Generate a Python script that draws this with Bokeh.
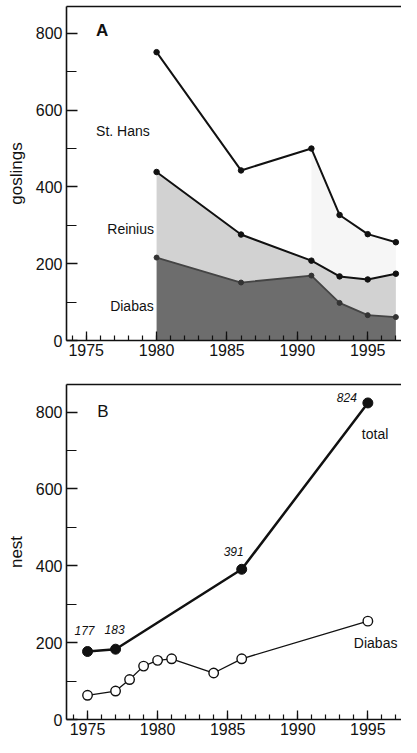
from bokeh.plotting import figure
from bokeh.layouts import column
from bokeh.models import Range1d, FixedTicker, LinearAxis, Label
from bokeh.embed import file_html
from bokeh.resources import INLINE

# ---- Panel A data (goslings, cumulative) ----
years_a = [1980, 1986, 1991, 1993, 1995, 1997]
diabas_a = [216, 151, 169, 98, 66, 61]
reinius_cum = [439, 276, 208, 167, 159, 174]
sthans_cum = [751, 443, 500, 327, 277, 256]

# ---- Panel B data (nests) ----
years_total = [1975, 1977, 1986, 1995]
total_nests = [177, 183, 391, 824]
years_diabas_b = [1975, 1977, 1978, 1979, 1980, 1981, 1984, 1986, 1995]
diabas_nests = [63, 74, 104, 139, 154, 158, 121, 158, 256]

x_major = [1975, 1980, 1985, 1990, 1995]
x_minor = list(range(1974, 1998))
y_major = [0, 200, 400, 600, 800]
y_minor = [100, 300, 500, 700]

FONT = "Liberation Sans"
INK = "#111111"
W = 401


def style(p, ylabel):
    p.outline_line_color = None
    p.grid.visible = False
    p.background_fill_color = "white"
    p.border_fill_color = "white"
    xa = p.xaxis[0]
    xa.ticker = FixedTicker(ticks=x_major, minor_ticks=x_minor)
    ya = p.yaxis[0]
    ya.ticker = FixedTicker(ticks=y_major, minor_ticks=y_minor)
    for ax in (xa, ya):
        ax.axis_line_width = 1.6
        ax.axis_line_color = INK
        ax.major_tick_line_color = INK
        ax.minor_tick_line_color = INK
        ax.major_tick_line_width = 1.3
        ax.minor_tick_line_width = 1.2
        ax.major_tick_out = 0
        ax.minor_tick_out = 0
        ax.major_label_text_font = FONT
        ax.major_label_text_font_size = "16px"
        ax.major_label_text_color = INK
    xa.major_tick_in = 9
    xa.minor_tick_in = 5
    xa.major_label_standoff = 3
    ya.major_tick_in = 11
    ya.minor_tick_in = 10
    ya.major_label_standoff = 4
    ya.axis_label = ylabel
    ya.axis_label_text_font = FONT
    ya.axis_label_text_font_size = "17px"
    ya.axis_label_text_font_style = "normal"
    ya.axis_label_text_color = INK
    ya.axis_label_standoff = 7
    top = LinearAxis(ticker=FixedTicker(ticks=[]), major_label_text_font_size="0px",
                     axis_line_width=1.6, axis_line_color=INK,
                     major_tick_line_color=None, minor_tick_line_color=None)
    p.add_layout(top, "above")


lbl = dict(text_font=FONT, text_color=INK, text_baseline="middle")

# ---------------- Panel A ----------------
pa = figure(width=W, height=362, output_backend="svg", toolbar_location=None,
            x_range=Range1d(1973.6, 1997.4), y_range=Range1d(0, 870),
            min_border_left=66, min_border_right=0, min_border_top=6, min_border_bottom=22)
style(pa, "goslings")

pa.varea(x=years_a[2:], y1=reinius_cum[2:], y2=sthans_cum[2:], fill_color="#f6f6f6")
pa.varea(x=years_a, y1=diabas_a, y2=reinius_cum, fill_color="#d2d2d2")
pa.varea(x=years_a, y1=[0] * len(years_a), y2=diabas_a, fill_color="#6d6d6d")

pa.line(years_a, diabas_a, line_color="#444444", line_width=1.8)
pa.scatter(years_a, diabas_a, size=5, color="#333333")
pa.line(years_a, reinius_cum, line_color=INK, line_width=2)
pa.scatter(years_a, reinius_cum, size=5.5, color=INK)
pa.line(years_a, sthans_cum, line_color=INK, line_width=2)
pa.scatter(years_a, sthans_cum, size=5.5, color=INK)

pa.add_layout(Label(x=1975.7, y=808, text="A", text_font_size="17px", text_font_style="bold", **lbl))
pa.add_layout(Label(x=1975.7, y=546, text="St. Hans", text_font_size="14px", **lbl))
pa.add_layout(Label(x=1976.5, y=291, text="Reinius", text_font_size="14px", **lbl))
pa.add_layout(Label(x=1976.7, y=91, text="Diabas", text_font_size="14px", **lbl))

# ---------------- Panel B ----------------
pb = figure(width=W, height=375, output_backend="svg", toolbar_location=None,
            x_range=Range1d(1973.5, 1997.4), y_range=Range1d(0, 872),
            min_border_left=66, min_border_right=0, min_border_top=22, min_border_bottom=18)
style(pb, "nest")

pb.line(years_diabas_b, diabas_nests, line_color=INK, line_width=1.3)
pb.scatter(years_diabas_b, diabas_nests, size=9.5, fill_color="white", line_color=INK, line_width=1.4)
pb.line(years_total, total_nests, line_color=INK, line_width=2.5)
pb.scatter(years_total, total_nests, size=10, color=INK)

dxs = [-3, -1, -8, -21]
dys = [21, 20, 18, 5]
for yr, v, dx, dy in zip(years_total, total_nests, dxs, dys):
    pb.add_layout(Label(x=yr, y=v, text=str(v), x_offset=dx, y_offset=dy,
                        text_font=FONT, text_font_size="12px", text_font_style="italic",
                        text_align="center", text_baseline="middle", text_color=INK))

pb.add_layout(Label(x=1975.7, y=802, text="B", text_font_size="17px", **lbl))
pb.add_layout(Label(x=1995, x_offset=-6, y=742, text="total", text_font_size="14px", **lbl))
pb.add_layout(Label(x=1995, x_offset=-14, y=198, text="Diabas", text_font_size="14px", **lbl))

layout = column(pa, pb, spacing=0)
open("out.html", "w").write(file_html(layout, INLINE))
